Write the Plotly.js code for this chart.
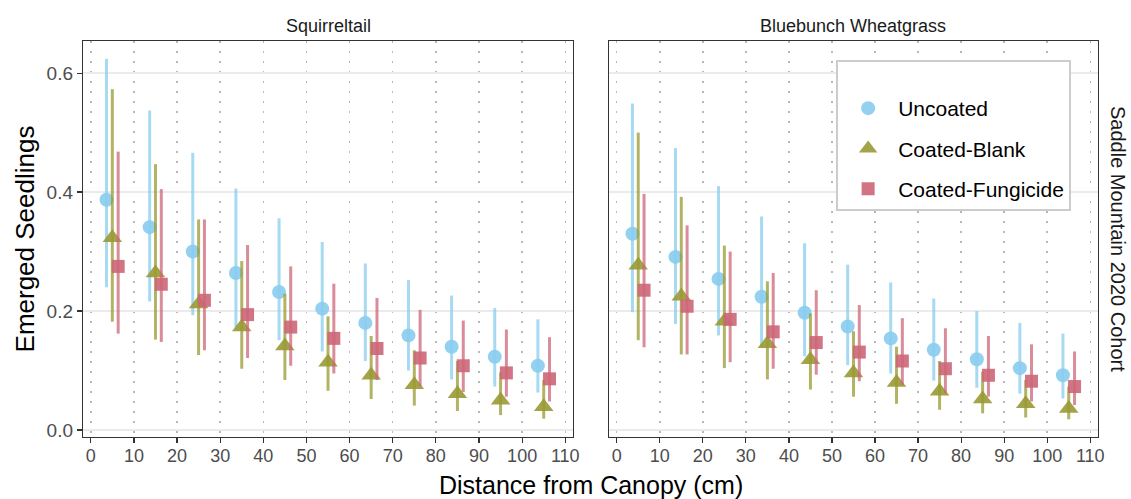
<!DOCTYPE html>
<html>
<head>
<meta charset="utf-8">
<script src="https://cdn.plot.ly/plotly-3.0.1.min.js"></script>
<style>html,body{margin:0;padding:0;background:#fff;}#chart{width:1131px;height:499px;}</style>
</head>
<body>
<div id="chart"></div>
<script>
// ---- data ----
const distance = [5, 15, 25, 35, 45, 55, 65, 75, 85, 95, 105];
const treatments = ["Uncoated", "Coated-Blank", "Coated-Fungicide"];
const species = ["Squirreltail", "Bluebunch Wheatgrass"];

// Squirreltail
const sq_uncoated      = [0.387, 0.341, 0.300, 0.264, 0.232, 0.204, 0.180, 0.159, 0.140, 0.123, 0.108];
const sq_uncoated_lo   = [0.240, 0.216, 0.193, 0.173, 0.151, 0.132, 0.116, 0.100, 0.085, 0.073, 0.063];
const sq_uncoated_hi   = [0.624, 0.537, 0.466, 0.406, 0.356, 0.316, 0.280, 0.252, 0.226, 0.205, 0.186];
const sq_blank         = [0.323, 0.264, 0.212, 0.173, 0.141, 0.114, 0.092, 0.076, 0.061, 0.050, 0.039];
const sq_blank_lo      = [0.182, 0.152, 0.126, 0.103, 0.084, 0.066, 0.052, 0.041, 0.032, 0.025, 0.019];
const sq_blank_hi      = [0.573, 0.447, 0.354, 0.284, 0.229, 0.191, 0.158, 0.134, 0.116, 0.097, 0.084];
const sq_fung          = [0.275, 0.245, 0.218, 0.194, 0.173, 0.154, 0.137, 0.121, 0.108, 0.096, 0.086];
const sq_fung_lo       = [0.162, 0.148, 0.134, 0.121, 0.108, 0.095, 0.084, 0.074, 0.064, 0.056, 0.048];
const sq_fung_hi       = [0.468, 0.405, 0.354, 0.311, 0.275, 0.246, 0.222, 0.202, 0.184, 0.169, 0.156];

// Bluebunch Wheatgrass
const bb_uncoated      = [0.330, 0.291, 0.254, 0.224, 0.197, 0.174, 0.154, 0.135, 0.119, 0.104, 0.092];
const bb_uncoated_lo   = [0.198, 0.178, 0.159, 0.140, 0.124, 0.109, 0.095, 0.083, 0.071, 0.061, 0.053];
const bb_uncoated_hi   = [0.549, 0.474, 0.410, 0.359, 0.314, 0.278, 0.248, 0.221, 0.200, 0.180, 0.162];
const bb_blank         = [0.277, 0.225, 0.183, 0.145, 0.118, 0.096, 0.080, 0.065, 0.052, 0.044, 0.036];
const bb_blank_lo      = [0.151, 0.127, 0.104, 0.085, 0.068, 0.056, 0.044, 0.034, 0.028, 0.021, 0.018];
const bb_blank_hi      = [0.500, 0.392, 0.310, 0.250, 0.196, 0.166, 0.140, 0.116, 0.098, 0.084, 0.073];
const bb_fung          = [0.235, 0.208, 0.186, 0.165, 0.147, 0.131, 0.116, 0.103, 0.092, 0.082, 0.073];
const bb_fung_lo       = [0.139, 0.127, 0.114, 0.103, 0.093, 0.082, 0.076, 0.062, 0.056, 0.048, 0.042];
const bb_fung_hi       = [0.397, 0.344, 0.300, 0.264, 0.235, 0.210, 0.188, 0.171, 0.158, 0.144, 0.132];

// ---- styles ----
const colors = ["#88CCEE", "#999933", "#CC6677"];
const errColors = ["rgba(136,204,238,0.75)", "rgba(153,153,51,0.75)", "rgba(204,102,119,0.75)"];
const symbols = ["circle", "triangle-up", "square"];
const sizes = [14, 17, 13];
const dodge = [-1.35, 0, 1.35];

const panels = [
  {xa: "x", ya: "y", series: [[sq_uncoated, sq_uncoated_lo, sq_uncoated_hi], [sq_blank, sq_blank_lo, sq_blank_hi], [sq_fung, sq_fung_lo, sq_fung_hi]]},
  {xa: "x2", ya: "y2", series: [[bb_uncoated, bb_uncoated_lo, bb_uncoated_hi], [bb_blank, bb_blank_lo, bb_blank_hi], [bb_fung, bb_fung_lo, bb_fung_hi]]}
];

const traces = [];
panels.forEach((p, pi) => {
  p.series.forEach((s, ti) => {
    const [mid, lo, hi] = s;
    traces.push({
      type: "scatter", mode: "markers",
      x: distance.map(d => d + dodge[ti]),
      y: mid,
      xaxis: p.xa, yaxis: p.ya,
      name: treatments[ti],
      legendgroup: "g" + ti,
      showlegend: pi === 1,
      marker: {symbol: symbols[ti], size: sizes[ti], color: colors[ti], opacity: 0.9, line: {width: 0}},
      error_y: {type: "data", symmetric: false, array: hi.map((h, i) => h - mid[i]), arrayminus: mid.map((m, i) => m - lo[i]),
                color: errColors[ti], thickness: 3, width: 0}
    });
  });
});

const FONT = "Liberation Sans, Arial, Helvetica, sans-serif";
const xBase = {
  range: [-1.8, 111.8], tickmode: "array", tickvals: [0,10,20,30,40,50,60,70,80,90,100,110],
  ticks: "outside", ticklen: 5, tickcolor: "#333", tickwidth: 1.2, ticklabelstandoff: -3,
  showgrid: true, gridcolor: "#b8b8b8", griddash: "2px,8px", gridwidth: 1.5,
  showline: true, mirror: true, linecolor: "#333", linewidth: 1.2,
  zeroline: false, tickfont: {family: FONT, size: 18, color: "#4d4d4d"}
};
const yBase = {
  range: [-0.0118, 0.654], tickvals: [0, 0.2, 0.4, 0.6], ticktext: ["0.0","0.2","0.4","0.6"], tickmode: "array",
  showgrid: true, gridcolor: "#ebebeb", gridwidth: 1.5,
  showline: true, mirror: true, linecolor: "#333", linewidth: 1.2,
  zeroline: false
};

const layout = {
  width: 1131, height: 499,
  margin: {l: 83, r: 33, t: 41, b: 62},
  paper_bgcolor: "#fff", plot_bgcolor: "#fff",
  font: {family: FONT, color: "#000"},
  showlegend: true,
  legend: {x: 0.742, y: 0.952, xanchor: "left", yanchor: "top", bgcolor: "#fff",
           bordercolor: "#cccccc", borderwidth: 2, font: {family: FONT, size: 21, color: "#000"},
           tracegroupgap: 10, traceorder: "grouped", itemwidth: 50,
           title: {text: " ", font: {size: 20}}},
  xaxis: Object.assign({}, xBase, {domain: [0, 0.4828], anchor: "y"}),
  xaxis2: Object.assign({}, xBase, {domain: [0.5182, 1], anchor: "y2"}),
  yaxis: Object.assign({}, yBase, {anchor: "x", ticks: "outside", ticklen: 5, tickcolor: "#333", tickwidth: 1.2,
          ticklabelstandoff: 0,
          tickfont: {family: FONT, size: 19, color: "#4d4d4d"},
          title: {text: "Emerged Seedlings", font: {family: FONT, size: 26, color: "#000"}, standoff: 4}}),
  yaxis2: Object.assign({}, yBase, {anchor: "x2", matches: "y", showticklabels: false, ticks: ""}),
  annotations: [
    {text: species[0], xref: "paper", yref: "paper", x: 0.2414, y: 1.0, yshift: 3, xanchor: "center", yanchor: "bottom", showarrow: false, font: {family: FONT, size: 18, color: "#1a1a1a"}},
    {text: species[1], xref: "paper", yref: "paper", x: 0.7591, y: 1.0, yshift: 3, xanchor: "center", yanchor: "bottom", showarrow: false, font: {family: FONT, size: 18, color: "#1a1a1a"}},
    {text: "Saddle Mountain 2020 Cohort", xref: "paper", yref: "paper", x: 1.0, xshift: 7, y: 0.5, xanchor: "left", yanchor: "middle", textangle: 90, showarrow: false, font: {family: FONT, size: 20, color: "#1a1a1a"}},
    {text: "Distance from Canopy (cm)", xref: "paper", yref: "paper", x: 0.5, y: 0, yshift: -32, xanchor: "center", yanchor: "top", showarrow: false, font: {family: FONT, size: 25, color: "#000"}}
  ]
};

Plotly.newPlot("chart", traces, layout, {displayModeBar: false, staticPlot: true});
</script>
</body>
</html>
